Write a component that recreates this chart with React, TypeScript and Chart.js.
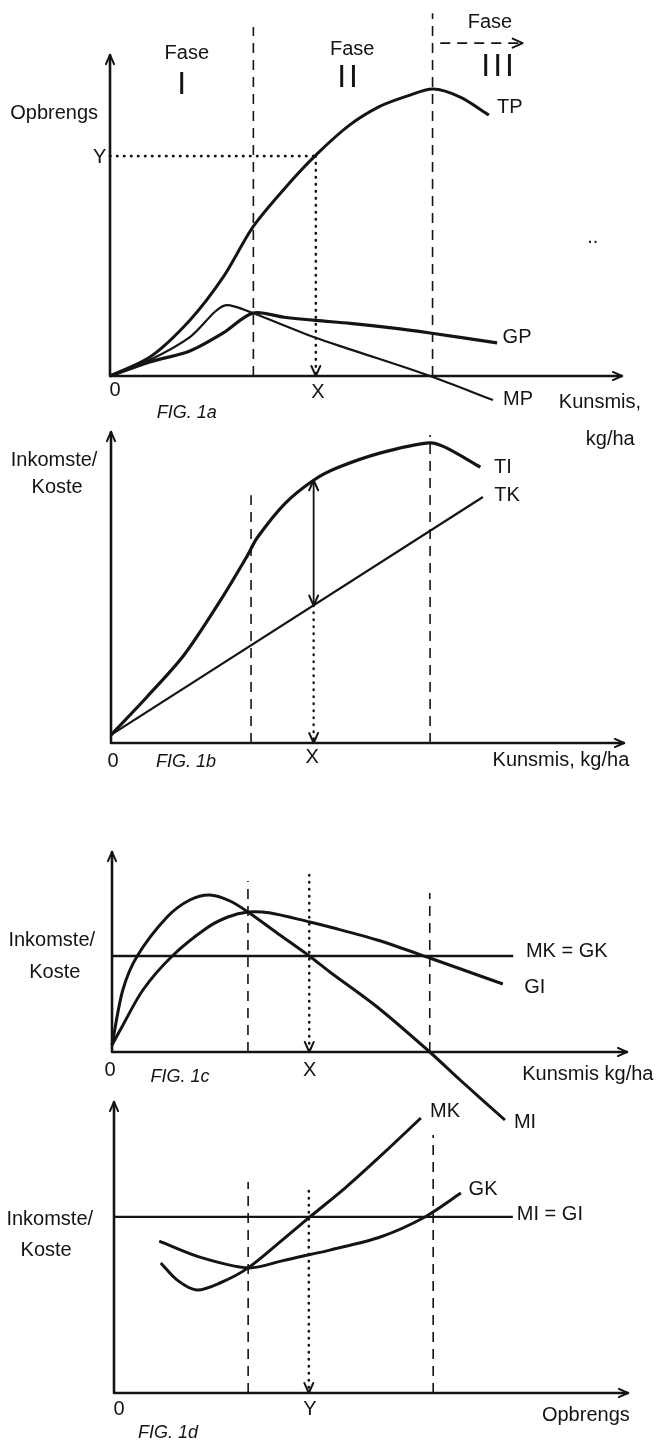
import React, { useEffect, useRef } from "react";
import { Chart, registerables } from "chart.js";

Chart.register(...registerables);

const PAGE_W = 657;
const PAGE_H = 1444;
const INK = "#141414";

// ---------- FIG. 1a : Opbrengs vs Kunsmis (abstract units 0–100) ----------
const fig1aTP = [[0, 0], [7.8, 5.9], [15.6, 17.4], [22.1, 30.8], [27.9, 46.4], [34.2, 58.6], [40.2, 68.8], [46.9, 78.3], [52.7, 84.0], [58, 87.2], [63.1, 89.4], [68.4, 86.9], [74, 81.3]];
const fig1aGP = [[0, 0], [7.8, 4.4], [15.6, 7.8], [22.1, 13.4], [27.9, 19.6], [34, 18.3], [40.2, 17.3], [46.9, 16.4], [55, 15], [62.5, 13.4], [75.6, 10.3]];
const fig1aMP = [[0, 0], [7.8, 5.0], [15.6, 12.1], [20.5, 20.0], [22.5, 22.0], [24.4, 21.6], [27.9, 19.6], [40.2, 11.9], [46.9, 8.3], [62.5, 0], [74.8, -7.5]];
const fig1aPhaseLines = [[28, 108.7], [63, 113]];
const fig1aX = 40.2;
const fig1aY = 68.5;
const fig1aPhaseArrow = [[64.5, 103.7], [80.6, 103.7]];

// ---------- FIG. 1b : Inkomste/Koste vs Kunsmis ----------
const fig1bTI = [[0, 2.6], [7, 14.8], [14.2, 28.2], [21.4, 46], [26.5, 60], [28.5, 66], [33.9, 77], [39.5, 84.5], [44, 88.4], [52.4, 93.2], [62, 96.5], [65, 95.2], [72, 88.7]];
const fig1bTK = [[0, 2.6], [72.5, 79.1]];
const fig1bPhaseLines = [[27.3, 79.7], [62.2, 99]];
const fig1bX = 39.5;
const fig1bTIatX = 84.5;
const fig1bTKatX = 44.2;

// ---------- FIG. 1c : Inkomste/Koste vs Kunsmis ----------
const fig1cMI = [[0, 3.5], [2.1, 31], [4.9, 48], [10.7, 67.5], [15.1, 76], [19, 78.5], [22.9, 75.5], [26.4, 70], [32.6, 58.5], [38.3, 48], [42.3, 40], [51.5, 22.5], [61.7, 0], [67.6, -14], [76.3, -34]];
const fig1cGI = [[0, 3.5], [1.6, 11], [6, 31], [11.7, 48], [18.4, 62], [22.5, 67.5], [26.4, 70], [30.5, 69.6], [38.4, 65], [42.3, 62.5], [51.5, 56], [61.7, 47], [75.9, 34]];
const fig1cMKGK = [[0, 48], [77.9, 48]];
const fig1cPhaseLines = [[26.4, 85.5], [61.7, 79.5]];
const fig1cX = 38.3;
const fig1cXTop = 88.5;

// ---------- FIG. 1d : Inkomste/Koste vs Opbrengs ----------
const fig1dMK = [[9.1, 44.7], [12.3, 38.8], [16.1, 35.4], [20.6, 37.8], [26.1, 43], [32.9, 52.8], [38.1, 60.5], [45, 70.5], [52.5, 82.5], [59.7, 94.5]];
const fig1dGK = [[8.8, 52.2], [16.7, 46.7], [26.1, 43], [32.9, 45.5], [38.1, 47.6], [42, 49.1], [51.8, 53.6], [60.5, 60.5], [67.5, 68.7]];
const fig1dMIGI = [[0, 60.5], [77.6, 60.5]];
const fig1dPhaseLines = [[26.1, 72.5], [62.1, 88.7]];
const fig1dY = 37.9;
const fig1dYTop = 69.4;

// ---------- text labels: [text, x, y] in each panel's units ----------
const fig1aLabels = [
  ["Fase", 15, 100.6], ["Fase", 47.3, 101.6], ["Fase", 74.2, 110.0],
  ["Opbrengs", -10.9, 81.9], ["Y", -2.0, 68.2], ["TP", 78.1, 83.5], ["GP", 79.5, 12.1],
  ["MP", 79.7, -7.2], ["Kunsmis,", 95.7, -8.1], ["kg/ha", 97.7, -19.9], ["0", 1.0, -4.4], ["X", 40.6, -5.0], ["..", 94.3, 43],
];
const fig1aNumerals = [["I", 14.3, 90.7], ["II", 46.7, 92.8], ["III", 76.0, 96.3]];
const fig1bLabels = [
  ["Inkomste/", -11.1, 91.0], ["Koste", -10.5, 82.0], ["TI", 76.4, 88.7], ["TK", 77.2, 79.7],
  ["0", 0.4, -6.1], ["X", 39.2, -4.8], ["Kunsmis, kg/ha", 87.7, -5.5],
];
const fig1cLabels = [
  ["Inkomste/", -11.7, 56], ["Koste", -11.1, 40], ["MK = GK", 88.3, 50.5], ["GI", 82.1, 32.5],
  ["MI", 80.2, -35], ["0", -0.4, -9], ["X", 38.4, -9], ["Kunsmis kg/ha", 92.4, -11],
];
const fig1dLabels = [
  ["Inkomste/", -12.5, 59.5], ["Koste", -13.2, 49.1], ["MK", 64.4, 96.9], ["GK", 71.8, 69.8],
  ["MI = GI", 84.8, 61.2], ["0", 1.0, -5.8], ["Y", 38.1, -5.8], ["Opbrengs", 91.8, -7.6],
];
const figCaptions = [["FIG. 1a", 15.0, -11.5], ["FIG. 1b", 14.6, -6.1], ["FIG. 1c", 13.2, -12.5], ["FIG. 1d", 10.5, -13.7]];

// ---------- layout (pixel box of each panel's axes) ----------
type Box = { left: number; right: number; top: number; bottom: number };
type Style = "solid" | "dash" | "dot";
type Series = { pts: number[][]; w: number; style: Style; smooth?: boolean };
type Arrow = { x: number; y: number; dir: "up" | "down" | "right" };
type Panel = {
  box: Box;
  series: Series[];
  arrows: Arrow[];
  labels: any[][];
  numerals?: any[][];
  caption: any[];
};

const vline = (x: number, y0: number, y1: number) => [[x, y0], [x, y1]];

const panels: Panel[] = [
  {
    box: { left: 110, right: 622, top: 55, bottom: 376 },
    series: [
      { pts: fig1aTP, w: 3, style: "solid", smooth: true },
      { pts: fig1aGP, w: 3.2, style: "solid", smooth: true },
      { pts: fig1aMP, w: 2.2, style: "solid", smooth: true },
      ...fig1aPhaseLines.map(([x, top]) => ({ pts: vline(x, 0, top), w: 1.6, style: "dash" as Style })),
      { pts: [[0, fig1aY], [fig1aX, fig1aY]], w: 2.6, style: "dot" },
      { pts: vline(fig1aX, fig1aY, 0), w: 2.6, style: "dot" },
      { pts: fig1aPhaseArrow, w: 1.6, style: "dash" },
    ],
    arrows: [
      { x: fig1aX, y: 0, dir: "down" },
      { x: fig1aPhaseArrow[1][0], y: fig1aPhaseArrow[1][1], dir: "right" },
    ],
    labels: fig1aLabels,
    numerals: fig1aNumerals,
    caption: figCaptions[0],
  },
  {
    box: { left: 111, right: 624, top: 432, bottom: 743 },
    series: [
      { pts: fig1bTI, w: 3.2, style: "solid", smooth: true },
      { pts: fig1bTK, w: 2.2, style: "solid" },
      ...fig1bPhaseLines.map(([x, top]) => ({ pts: vline(x, 0, top), w: 1.6, style: "dash" as Style })),
      { pts: vline(fig1bX, fig1bTIatX, fig1bTKatX), w: 1.8, style: "solid" },
      { pts: vline(fig1bX, fig1bTKatX, 0), w: 2.4, style: "dot" },
    ],
    arrows: [
      { x: fig1bX, y: fig1bTIatX, dir: "up" },
      { x: fig1bX, y: fig1bTKatX, dir: "down" },
      { x: fig1bX, y: 0, dir: "down" },
    ],
    labels: fig1bLabels,
    caption: figCaptions[1],
  },
  {
    box: { left: 112, right: 627, top: 852, bottom: 1052 },
    series: [
      { pts: fig1cMI, w: 3, style: "solid", smooth: true },
      { pts: fig1cGI, w: 3, style: "solid", smooth: true },
      { pts: fig1cMKGK, w: 2.6, style: "solid" },
      ...fig1cPhaseLines.map(([x, top]) => ({ pts: vline(x, 0, top), w: 1.6, style: "dash" as Style })),
      { pts: vline(fig1cX, fig1cXTop, 0), w: 2.6, style: "dot" },
    ],
    arrows: [{ x: fig1cX, y: 0, dir: "down" }],
    labels: fig1cLabels,
    caption: figCaptions[2],
  },
  {
    box: { left: 114, right: 628, top: 1102, bottom: 1393 },
    series: [
      { pts: fig1dMK, w: 3, style: "solid", smooth: true },
      { pts: fig1dGK, w: 3, style: "solid", smooth: true },
      { pts: fig1dMIGI, w: 2.2, style: "solid" },
      ...fig1dPhaseLines.map(([x, top]) => ({ pts: vline(x, 0, top), w: 1.6, style: "dash" as Style })),
      { pts: vline(fig1dY, fig1dYTop, 0), w: 2.6, style: "dot" },
    ],
    arrows: [{ x: fig1dY, y: 0, dir: "down" }],
    labels: fig1dLabels,
    caption: figCaptions[3],
  },
];

const LABEL_FONT = "20px 'Liberation Sans', Arial, sans-serif";
const CAPTION_FONT = "italic 18px 'Liberation Sans', Arial, sans-serif";
const NUMERAL_FONT = "32px 'Liberation Sans', Arial, sans-serif";

function arrowHead(ctx: CanvasRenderingContext2D, x: number, y: number, dir: string, len = 10) {
  const ang = dir === "up" ? -Math.PI / 2 : dir === "down" ? Math.PI / 2 : 0;
  const spread = 0.42;
  ctx.beginPath();
  ctx.moveTo(x - len * Math.cos(ang - spread), y - len * Math.sin(ang - spread));
  ctx.lineTo(x, y);
  ctx.lineTo(x - len * Math.cos(ang + spread), y - len * Math.sin(ang + spread));
  ctx.stroke();
}

function makeDecor(p: Panel) {
  return {
    id: "panelDecor",
    afterDatasetsDraw(chart: any) {
      const ctx: CanvasRenderingContext2D = chart.ctx;
      const sx = chart.scales.x;
      const sy = chart.scales.y;
      const X = (v: number) => sx.getPixelForValue(v);
      const Y = (v: number) => sy.getPixelForValue(v);
      ctx.save();
      ctx.strokeStyle = INK;
      ctx.fillStyle = INK;
      ctx.lineCap = "round";
      ctx.lineJoin = "round";
      // axes
      ctx.lineWidth = 2.6;
      ctx.beginPath();
      ctx.moveTo(X(0), Y(100));
      ctx.lineTo(X(0), Y(0));
      ctx.lineTo(X(100), Y(0));
      ctx.stroke();
      ctx.lineWidth = 2;
      arrowHead(ctx, X(0), Y(100), "up");
      arrowHead(ctx, X(100), Y(0), "right");
      ctx.lineWidth = 2;
      p.arrows.forEach((a) => arrowHead(ctx, X(a.x), Y(a.y), a.dir, 11));
      // labels
      ctx.textAlign = "center";
      ctx.textBaseline = "middle";
      ctx.font = LABEL_FONT;
      p.labels.forEach(([t, x, y]) => ctx.fillText(t, X(x), Y(y)));
      if (p.numerals) {
        ctx.font = NUMERAL_FONT;
        (ctx as any).letterSpacing = "3px";
        p.numerals.forEach(([t, x, y]) => ctx.fillText(t, X(x), Y(y)));
        (ctx as any).letterSpacing = "0px";
      }
      ctx.font = CAPTION_FONT;
      const [ct, cx, cy] = p.caption;
      ctx.fillText(ct, X(cx), Y(cy));
      ctx.restore();
    },
  };
}

function PanelChart({ spec }: { spec: Panel }) {
  const ref = useRef<HTMLCanvasElement>(null);
  useEffect(() => {
    const b = spec.box;
    const chart = new Chart(ref.current as HTMLCanvasElement, {
      type: "line",
      data: {
        datasets: spec.series.map((s) => ({
          data: s.pts.map(([x, y]) => ({ x, y })),
          borderColor: INK,
          borderWidth: s.w,
          borderDash: s.style === "dash" ? [10, 7] : s.style === "dot" ? [0.5, 6.5] : [],
          borderCapStyle: s.style === "dot" ? "round" : "butt",
          borderJoinStyle: "round",
          pointRadius: 0,
          pointHoverRadius: 0,
          fill: false,
          tension: s.smooth ? 0.3 : 0,
          capBezierPoints: false,
          clip: false,
        })) as any,
      },
      options: {
        responsive: false,
        animation: false,
        devicePixelRatio: 1,
        events: [],
        layout: {
          padding: { left: b.left, right: PAGE_W - b.right, top: b.top, bottom: PAGE_H - b.bottom },
        },
        scales: {
          x: { type: "linear", min: 0, max: 100, display: false },
          y: { type: "linear", min: 0, max: 100, display: false },
        },
        plugins: { legend: { display: false }, tooltip: { enabled: false }, title: { display: false } },
      } as any,
      plugins: [makeDecor(spec)],
    });
    return () => chart.destroy();
  }, [spec]);
  return (
    <canvas
      ref={ref}
      width={PAGE_W}
      height={PAGE_H}
      style={{ position: "absolute", left: 0, top: 0, width: PAGE_W, height: PAGE_H }}
    />
  );
}

export default function App() {
  return (
    <div style={{ position: "absolute", left: 0, top: 0, width: PAGE_W, height: PAGE_H, background: "#fff", overflow: "hidden" }}>
      {panels.map((p, i) => (
        <PanelChart key={i} spec={p} />
      ))}
    </div>
  );
}
